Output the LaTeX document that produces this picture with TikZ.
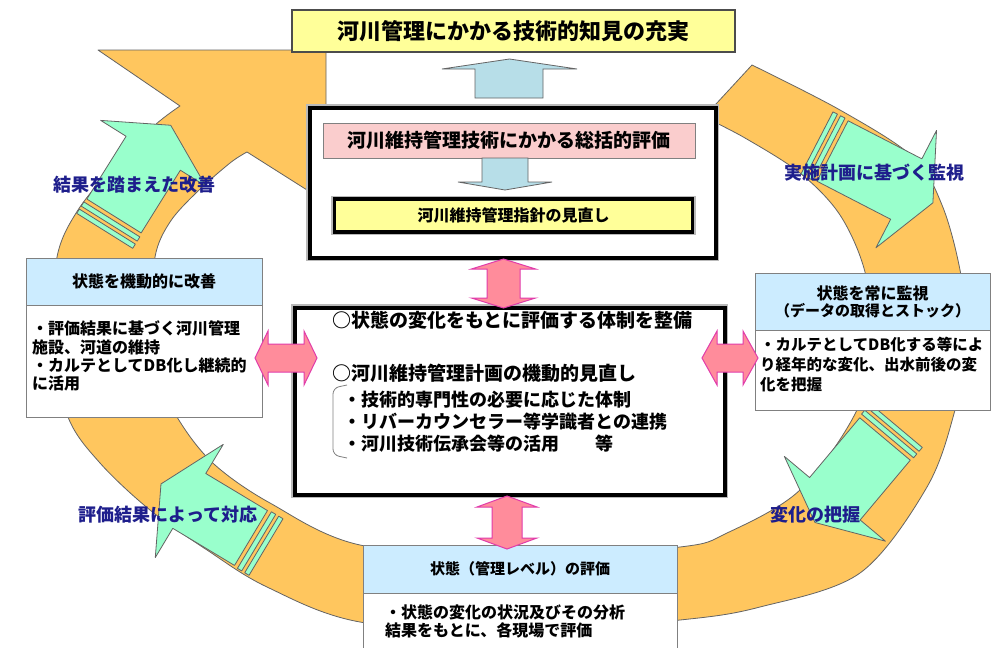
\documentclass[tikz,border=0pt]{standalone}
\usepackage{fontspec}
\setmainfont{Noto Sans CJK JP}
\definecolor{ringc}{RGB}{255,198,94}
\definecolor{mint}{RGB}{153,255,204}
\definecolor{hdrblue}{RGB}{204,236,255}
\definecolor{pinkbox}{RGB}{250,205,205}
\definecolor{ylw}{RGB}{255,255,153}
\definecolor{lblue}{RGB}{183,222,232}
\definecolor{pinkarrow}{RGB}{255,140,155}
\definecolor{pinkedge}{RGB}{225,60,170}
\definecolor{labelc}{RGB}{30,30,140}
\definecolor{edgegray}{RGB}{100,100,100}
\newcommand\jfs[1]{\fontsize{#1}{#1}\selectfont\bfseries}
\newcommand\grarrow[7]{%
\begin{scope}[shift={(#1,#2)}, rotate=#3]
\filldraw[garrow] (0,-#5) -- (#4,-#5) -- (#4,-#6) -- ({#4+#7},0) -- (#4,#6) -- (#4,#5) -- (0,#5) -- cycle;
\filldraw[garrow] (-4,{-#5-1}) rectangle (-9,{#5+1});
\filldraw[garrow] (-12.5,{-#5-1}) rectangle (-17.5,{#5+1});
\end{scope}}
\newcommand\vdarrow[6]{%
\filldraw[parrow] (#1,#2) -- ({#1+#4},{#2+#6}) -- ({#1+#5},{#2+#6}) -- ({#1+#5},{#3-#6}) -- ({#1+#4},{#3-#6}) -- (#1,#3) -- ({#1-#4},{#3-#6}) -- ({#1-#5},{#3-#6}) -- ({#1-#5},{#2+#6}) -- ({#1-#4},{#2+#6}) -- cycle;}
\newcommand\hdarrow[6]{%
\filldraw[parrow] (#2,#1) -- ({#2+#6},{#1-#4}) -- ({#2+#6},{#1-#5}) -- ({#3-#6},{#1-#5}) -- ({#3-#6},{#1-#4}) -- (#3,#1) -- ({#3-#6},{#1+#4}) -- ({#3-#6},{#1+#5}) -- ({#2+#6},{#1+#5}) -- ({#2+#6},{#1+#4}) -- cycle;}
\tikzset{
 ring/.style={fill=ringc, draw=edgegray, line width=0.8pt, line join=round},
 garrow/.style={fill=mint, draw=edgegray, line width=0.8pt, line join=round},
 parrow/.style={fill=pinkarrow, draw=pinkedge, line width=1pt},
 barrow/.style={fill=lblue, draw=edgegray, line width=0.8pt},
 lab/.style={text=labelc, font=\jfs{18}, inner sep=0pt},
 dblbox/.style={draw=black, fill=white, line width=4pt, preaction={draw=gray!55, line width=7.5pt}, inner sep=0pt, outer sep=0pt},
 ybox/.style={draw=black, fill=ylw, line width=3.5pt, preaction={draw=gray!55, line width=6.5pt}, inner sep=0pt, outer sep=0pt, font=\jfs{16}},
 titlebox/.style={draw=black!70, fill=ylw, line width=2.5pt, inner sep=0pt, outer sep=0pt, font=\jfs{22}},
 pbox/.style={draw=gray, fill=pinkbox, line width=0.8pt, inner sep=0pt, outer sep=0pt, font=\jfs{19}},
 hbox/.style={draw=gray, fill=hdrblue, line width=0.8pt, inner sep=0pt, outer sep=0pt},
 bbox/.style={draw=gray, fill=white, line width=0.8pt, inner sep=0pt, outer sep=0pt},
 txt/.style={inner sep=0pt, anchor=west},
}
\begin{document}
\begin{tikzpicture}[x=1pt,y=-1pt]
\useasboundingbox[fill=white] (0,0) rectangle (991,648);
% orange cycle band
\filldraw[ring] plot[smooth, tension=0.55] coordinates {(752,65) (840,110) (913,157) (942,205) (960,270) (968,340) (955,410) (927,487) (860,573) (760,607) (680,620) (520,632) (360,622) (267,587) (207,550) (150,510) (100,463) (68,417) (52,340) (57,257) (78,210) (115,165) (155,125) (180,106)}
 -- (98,50) -- (326,50) -- (326,202) -- (247,152)
 -- plot[smooth, tension=0.55] coordinates {(247,152) (230,163) (197,192) (170,222) (155,257) (152,320) (163,385) (182,425) (215,465) (270,503) (360,545) (520,558) (680,547) (727,533) (800,490) (857,410) (872,340) (865,272) (840,215) (800,173) (745,138) (704,117)}
 -- cycle;
% green arrows
\grarrow{114}{216}{58}{74}{32}{62}{33}
\grarrow{832.5}{151}{-27.3}{83}{34}{66}{30}
\grarrow{885}{439}{-130}{78}{33}{66}{31}
\grarrow{251}{538}{-211}{72}{32}{66}{33}
% labels
\node[lab] (lab1) at (134,185) {結果を踏まえた改善};
\node[lab] (lab2) at (874,173) {実施計画に基づく監視};
\node[lab] (lab3) at (168,515) {評価結果によって対応};
\node[lab] (lab4) at (815,515) {変化の把握};
% title
\node[titlebox, minimum width=443pt, minimum height=42pt, anchor=north west] (title) at (292,10) {河川管理にかかる技術的知見の充実};
% upper central box
\node[dblbox, minimum width=405.5pt, minimum height=150pt, anchor=north west] (upper) at (310,107.5) {};
\node[pbox, minimum width=372pt, minimum height=35pt, anchor=north west] (eval) at (323,123) {河川維持管理技術にかかる総括的評価};
\node[ybox, minimum width=358pt, minimum height=33pt, anchor=north west] (guide) at (334.5,199) {河川維持管理指針の見直し};
% blue arrows
\filldraw[barrow] (475,98) -- (475,69) -- (442,69) -- (509.5,59) -- (577,69) -- (543,69) -- (543,98) -- cycle;
\filldraw[barrow] (482,158) -- (482,182) -- (458,182) -- (505,190) -- (552,182) -- (528,182) -- (528,158) -- cycle;
% lower central box
\node[dblbox, minimum width=429.5pt, minimum height=187pt, anchor=north west] (center) at (295,307.5) {};
\node[txt, font=\jfs{19}] (c1) at (332,320) {○状態の変化をもとに評価する体制を整備};
\node[txt, font=\jfs{19}] (c2) at (332,373) {○河川維持管理計画の機動的見直し};
\node[txt, font=\jfs{18}] (c3) at (343,400) {・技術的専門性の必要に応じた体制};
\node[txt, font=\jfs{18}] (c4) at (343,422) {・リバーカウンセラー等学識者との連携};
\node[txt, font=\jfs{18}] (c5) at (343,444) {・河川技術伝承会等の活用　　等};
\draw[gray, line width=0.8pt, rounded corners=6pt] (347,385) -- (333,388) -- (333,455) -- (347,458);
% left box
\node[bbox, minimum width=236pt, minimum height=112pt, anchor=north west] (lbody) at (26,305) {};
\node[hbox, minimum width=236pt, minimum height=47pt, anchor=north west, font=\jfs{16}] (lhead) at (26,258) {状態を機動的に改善};
\node[txt, font=\jfs{16}] (l1) at (32,328) {・評価結果に基づく河川管理};
\node[txt, font=\jfs{16}] (l2) at (32,347) {施設、河道の維持};
\node[txt, font=\jfs{16}] (l3) at (32,365) {・カルテとしてDB化し継続的};
\node[txt, font=\jfs{16}] (l4) at (32,383) {に活用};
% right box
\node[bbox, minimum width=235pt, minimum height=80pt, anchor=north west] (rbody) at (755,330) {};
\node[hbox, minimum width=235pt, minimum height=57pt, anchor=north west, font=\jfs{15}, align=center] (rhead) at (755,273) {\jfs{16}状態を常に監視\\[2pt]（データの取得とストック）};
\node[txt, font=\jfs{15.5}] (r1) at (760,345) {・カルテとしてDB化する等によ};
\node[txt, font=\jfs{15.5}] (r2) at (760,365) {り経年的な変化、出水前後の変};
\node[txt, font=\jfs{15.5}] (r3) at (760,385) {化を把握};
% bottom box
\node[bbox, minimum width=314pt, minimum height=70pt, anchor=north west] (bbody) at (363,593) {};
\node[hbox, minimum width=314pt, minimum height=48pt, anchor=north west, font=\jfs{15}] (bhead) at (363,545) {状態（管理レベル）の評価};
\node[txt, font=\jfs{16}] (b1) at (385,612) {・状態の変化の状況及びその分析};
\node[txt, font=\jfs{16}] (b2) at (385,630) {結果をもとに、各現場で評価};
% pink double arrows
\vdarrow{503.5}{259}{308}{32}{16.5}{10}
\vdarrow{507}{496}{549}{30}{15}{11}
\hdarrow{358}{255}{317}{27}{14}{13}
\hdarrow{358}{702}{758}{27}{14}{15}
\end{tikzpicture}
\end{document}
